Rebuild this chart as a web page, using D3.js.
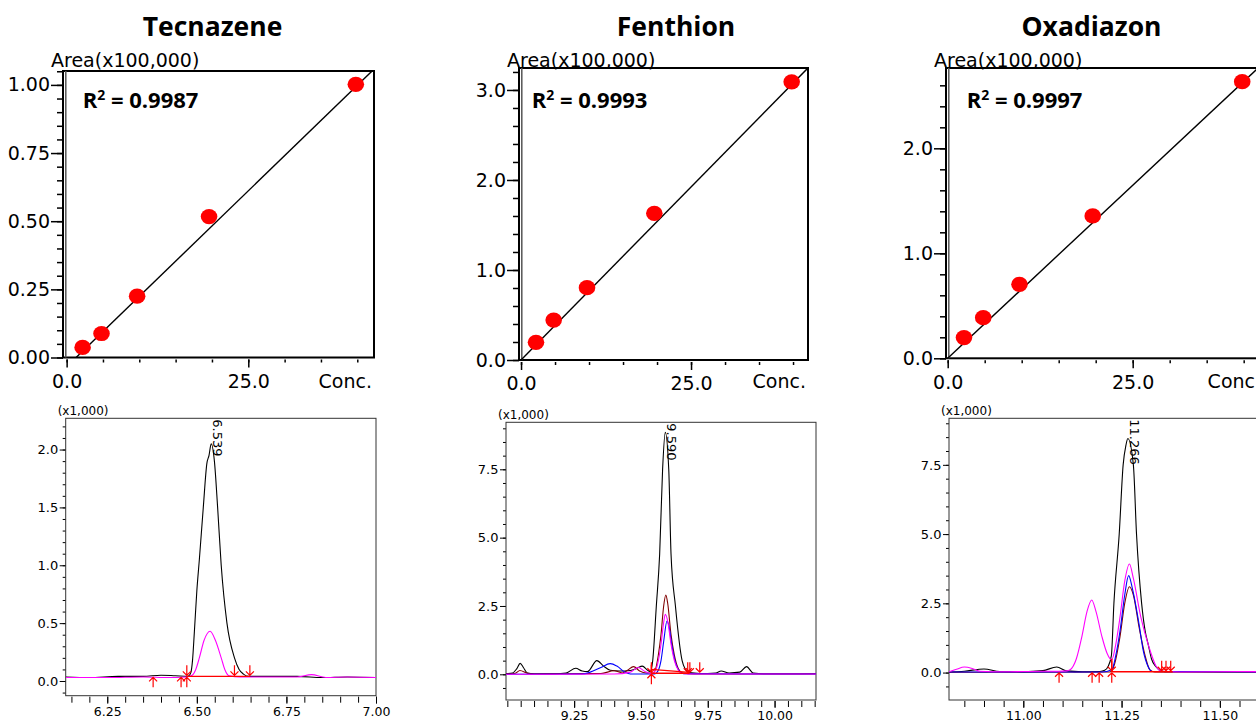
<!DOCTYPE html>
<html>
<head>
<meta charset="utf-8">
<script src="https://cdn.jsdelivr.net/npm/d3@7"></script>
<style>
body { margin: 0; background: #fff; }
svg text { font-family: "DejaVu Sans", sans-serif; }
</style>
</head>
<body>
<svg width="1256" height="722"></svg>
<script>
var svg = d3.select("svg");

var compounds = ["Tecnazene", "Fenthion", "Oxadiazon"];
var r2Values = ["0.9987", "0.9993", "0.9997"];
var peakTimes = [6.539, 9.590, 11.266];

// calibration levels and areas (x100,000)
var conc = [2.2, 4.8, 9.7, 19.6, 39.8];
var tecArea = [0.037, 0.088, 0.225, 0.517, 1.002];
var fenArea = [0.196, 0.444, 0.804, 1.63, 3.09];
var oxaArea = [0.197, 0.387, 0.705, 1.356, 2.635];
var fitSlope = [0.0258, 0.0769, 0.0659];
var fitIntercept = [-0.0336, 0, 0];

// calibration ticks
var calMajorY = [[0, 0.25, 0.5, 0.75, 1.0], [0, 1, 2, 3], [0, 1, 2]];
var calMinorStep = [0.05, 0.2, 0.2];
var calYFormat = [".2f", ".1f", ".1f"];
var calMajorX = [0, 25];
var calMinorX = [0, 5, 10, 15, 20, 25, 30, 35, 40];

// chromatograms, intensity (x1,000) against time
var tecBlack = [[6.134,0.035],[6.20,0.03],[6.28,0.04],[6.35,0.04],[6.40,0.05],[6.44,0.045],[6.475,0.04],[6.483,0.07],[6.488,0.18],[6.493,0.42],[6.50,0.78],[6.507,1.05],[6.518,1.5],[6.528,1.88],[6.534,1.95],[6.54,2.05],[6.549,1.9],[6.558,1.5],[6.568,1.0],[6.584,0.5],[6.605,0.2],[6.618,0.1],[6.63,0.06],[6.645,0.04],[6.70,0.04],[6.78,0.04],[6.85,0.03],[6.92,0.035],[7.0,0.03]];
var tecMagenta = [[6.134,0.03],[6.25,0.03],[6.35,0.035],[6.42,0.03],[6.47,0.035],[6.487,0.05],[6.497,0.1],[6.507,0.2],[6.52,0.35],[6.537,0.43],[6.552,0.35],[6.568,0.2],[6.578,0.1],[6.59,0.045],[6.62,0.035],[6.70,0.035],[6.78,0.035],[6.82,0.055],[6.86,0.03],[6.92,0.035],[7.0,0.03]];

var fenBlack = [[8.995,0.02],[9.02,0.05],[9.035,0.2],[9.048,0.4],[9.06,0.25],[9.075,0.05],[9.10,0.02],[9.18,0.02],[9.22,0.05],[9.256,0.22],[9.28,0.12],[9.30,0.1],[9.335,0.5],[9.36,0.3],[9.385,0.15],[9.42,0.12],[9.46,0.14],[9.485,0.22],[9.505,0.3],[9.525,0.15],[9.535,0.1],[9.544,0.5],[9.5575,2.5],[9.57,4.4],[9.581,7.5],[9.591,8.85],[9.604,7.5],[9.6125,4.4],[9.629,2.5],[9.654,0.5],[9.665,0.2],[9.68,0.06],[9.72,0.03],[9.78,0.05],[9.80,0.12],[9.83,0.05],[9.87,0.08],[9.895,0.28],[9.92,0.05],[9.96,0.02],[10.05,0.02],[10.155,0.03]];
var fenMaroon = [[8.995,0.01],[9.03,0.04],[9.047,0.14],[9.075,0.04],[9.10,0.01],[9.20,0.02],[9.35,0.03],[9.40,0.13],[9.43,0.05],[9.45,0.15],[9.472,0.28],[9.495,0.12],[9.52,0.05],[9.545,0.05],[9.555,0.2],[9.565,0.7],[9.575,1.45],[9.585,2.5],[9.593,2.9],[9.60,2.6],[9.6125,1.45],[9.625,0.7],[9.64,0.2],[9.655,0.05],[9.70,0.01],[10.155,0.01]];
var fenMagenta = [[8.995,0],[9.40,0.01],[9.46,0.08],[9.49,0.25],[9.515,0.1],[9.54,0.03],[9.555,0.15],[9.565,0.5],[9.575,1.1],[9.585,1.9],[9.591,2.2],[9.60,1.95],[9.6125,1.1],[9.625,0.5],[9.64,0.15],[9.655,0.03],[9.70,0.01],[10.155,0.01]];
var fenBlue = [[8.995,0],[9.28,0.01],[9.31,0.08],[9.35,0.25],[9.385,0.39],[9.41,0.3],[9.44,0.08],[9.46,0.01],[9.55,0.01],[9.565,0.15],[9.575,0.5],[9.585,1.2],[9.5975,1.95],[9.605,1.75],[9.615,1.1],[9.63,0.4],[9.645,0.1],[9.66,0.02],[10.155,0.01]];

var oxaBlack = [[10.811,0.02],[10.85,0.05],[10.90,0.13],[10.94,0.04],[11.00,0.03],[11.05,0.07],[11.085,0.2],[11.11,0.06],[11.15,0.03],[11.195,0.04],[11.207,0.08],[11.215,0.2],[11.224,0.6],[11.2305,2.5],[11.244,5.0],[11.254,7.5],[11.261,8.2],[11.266,8.45],[11.28,7.5],[11.288,5.0],[11.301,2.5],[11.31,1.5],[11.318,1.0],[11.326,0.5],[11.338,0.2],[11.35,0.06],[11.37,0.03],[11.45,0.03],[11.55,0.04],[11.653,0.03]];
var oxaMaroon = [[10.811,0.01],[11.22,0.02],[11.232,0.3],[11.246,1.3],[11.258,2.5],[11.27,3.1],[11.28,2.8],[11.295,1.6],[11.31,0.6],[11.322,0.1],[11.335,0.02],[11.653,0.01]];
var oxaBlue = [[10.811,0.02],[11.20,0.02],[11.225,0.1],[11.235,0.6],[11.246,1.5],[11.258,2.8],[11.268,3.5],[11.278,3.0],[11.295,1.7],[11.305,0.8],[11.318,0.2],[11.327,0.04],[11.653,0.02]];
var oxaMagenta = [[10.811,0.03],[10.83,0.12],[10.85,0.2],[10.87,0.15],[10.89,0.05],[10.95,0.03],[11.05,0.05],[11.09,0.05],[11.11,0.06],[11.119,0.1],[11.135,0.5],[11.149,1.3],[11.162,2.2],[11.174,2.62],[11.185,2.2],[11.2,1.3],[11.213,0.7],[11.225,0.46],[11.235,1.0],[11.246,2.0],[11.258,3.3],[11.27,3.92],[11.28,3.4],[11.299,2.0],[11.318,1.0],[11.339,0.2],[11.352,0.05],[11.40,0.02],[11.55,0.04],[11.653,0.02]];

// integration marks
var tecBase = [[[6.472,0.04],[6.648,0.04]]];
var tecUp = [6.378, 6.456, 6.472];
var tecDown = [6.472, 6.605, 6.648];
var fenBase = [[[9.539,0.04],[9.682,0.04]], [[9.539,0.18],[9.682,0.07]], [[9.539,0.04],[9.539,0.35]]];
var fenUp = [9.539];
var fenDown = [9.539, 9.675, 9.683, 9.72];
var oxaBase = [[[11.225,0.03],[11.38,0.03]], [[11.225,0.03],[11.225,0.5]]];
var oxaUp = [11.091, 11.175, 11.193, 11.225];
var oxaDown = [11.225, 11.352, 11.363, 11.375];
var markLevel = [0.04, 0.04, 0.03];

var chromMajorX = [[6.25, 6.5, 6.75, 7.0], [9.25, 9.5, 9.75, 10.0], [11.0, 11.25, 11.5]];
var chromMajorY = [[0, 0.5, 1.0, 1.5, 2.0], [0, 2.5, 5.0, 7.5], [0, 2.5, 5.0, 7.5]];
var chromMinorYStep = [0.1, 0.5, 0.5];

// layout
var calBoxes = [
	{left: 63, right: 374, top: 71, bottom: 357.5, xDom: [-0.5, 42.3], yDom: [0, 1.051], title: 212.5, r2x: 82.7},
	{left: 519, right: 808, top: 68, bottom: 360, xDom: [-0.3, 42.2], yDom: [0, 3.244], title: 676, r2x: 531.7},
	{left: 946, right: 1261, top: 68, bottom: 358.3, xDom: [-0.23, 42.34], yDom: [0, 2.765], title: 1091.5, r2x: 966.7}
];
var chromBoxes = [
	{left: 65.7, right: 376, top: 418.3, bottom: 695.7, xDom: [6.134, 7.0], yDom: [-0.127, 2.27]},
	{left: 506, right: 816, top: 422.3, bottom: 700, xDom: [8.995, 10.155], yDom: [-0.94, 9.22]},
	{left: 949, right: 1280, top: 418.3, bottom: 700, xDom: [10.811, 11.653], yDom: [-0.99, 9.18]}
];

var areas = [tecArea, fenArea, oxaArea];
var traces = [
	[[tecBlack, "#000"], [tecMagenta, "#ff00ff"]],
	[[fenBlack, "#000"], [fenMaroon, "#800000"], [fenBlue, "#0000ff"], [fenMagenta, "#ff00ff"]],
	[[oxaBlack, "#000"], [oxaMaroon, "#800000"], [oxaBlue, "#0000ff"], [oxaMagenta, "#ff00ff"]]
];
var bases = [tecBase, fenBase, oxaBase];
var ups = [tecUp, fenUp, oxaUp];
var downs = [tecDown, fenDown, oxaDown];

function stepTicks(dom, step) {
	var lo = Math.ceil(dom[0] / step - 1e-6), hi = Math.floor(dom[1] / step + 1e-6);
	return d3.range(lo, hi + 1).map(function(i) { return +(i * step).toFixed(4); });
}

function styleAxis(g, size, width) {
	g.attr("font-family", "DejaVu Sans").attr("font-size", size);
	g.select(".domain").remove();
	g.selectAll("line").attr("stroke", "#000").attr("stroke-width", width);
	g.selectAll("text").attr("fill", "#000");
}

var defs = svg.append("defs");

compounds.forEach(function(name, i) {
	var b = calBoxes[i];
	var x = d3.scaleLinear().domain(b.xDom).range([b.left, b.right]);
	var y = d3.scaleLinear().domain(b.yDom).range([b.bottom, b.top]);
	var g = svg.append("g");

	defs.append("clipPath").attr("id", "cal" + i).append("rect")
		.attr("x", b.left).attr("y", b.top).attr("width", b.right - b.left).attr("height", b.bottom - b.top);

	//title
	svg.append("text")
		.attr("x", b.title).attr("y", 35.7)
		.attr("text-anchor", "middle")
		.style("font-family", "'Open Sans'").style("font-weight", "bold").style("font-size", "26.5px")
		.text(name);

	//y axis, minor then major
	g.append("g").attr("transform", "translate(" + b.left + ",0)")
		.call(d3.axisLeft(y).tickValues(stepTicks(b.yDom, calMinorStep[i])).tickSize(6).tickFormat(""))
		.call(styleAxis, 19, 1.5);
	g.append("g").attr("transform", "translate(" + b.left + ",0)")
		.call(d3.axisLeft(y).tickValues(calMajorY[i]).tickSize(12).tickPadding(1).tickFormat(d3.format(calYFormat[i])))
		.call(styleAxis, 19, 1.5);

	//x axis
	g.append("g").attr("transform", "translate(0," + (b.bottom + 2) + ")")
		.call(d3.axisBottom(x).tickValues(calMinorX).tickSize(3).tickFormat(""))
		.call(styleAxis, 19, 1.5);
	g.append("g").attr("transform", "translate(0," + (b.bottom + 2) + ")")
		.call(d3.axisBottom(x).tickValues(calMajorX).tickSize(8).tickPadding(7).tickFormat(d3.format(".1f")))
		.call(styleAxis, 19, 1.5);

	g.append("text").attr("x", Math.min(b.right - 2, 1255)).attr("y", 388)
		.attr("text-anchor", "end").attr("font-size", 19).text(b.right > 1256 ? "Conc" : "Conc.");
	g.append("text").attr("x", b.left - 12).attr("y", 66.7)
		.attr("font-size", 19).text("Area(x100,000)");

	//frame
	g.append("rect")
		.attr("x", b.left).attr("y", b.top).attr("width", b.right - b.left).attr("height", b.bottom - b.top)
		.attr("fill", "none").attr("stroke", "#000").attr("stroke-width", 2);
	g.append("line")
		.attr("x1", b.left + 2.8).attr("x2", b.left + 2.8).attr("y1", b.top).attr("y2", b.bottom)
		.attr("stroke", "#555").attr("stroke-width", 1.5);

	//fit line
	var x0 = Math.max(0, -fitIntercept[i] / fitSlope[i]);
	var fit = [x0, b.xDom[1]];
	g.append("path")
		.datum(fit)
		.attr("clip-path", "url(#cal" + i + ")")
		.attr("fill", "none").attr("stroke", "#000").attr("stroke-width", 1.4)
		.attr("d", d3.line()
			.x(function(d) { return x(d); })
			.y(function(d) { return y(fitSlope[i] * d + fitIntercept[i]); }));

	//calibration points
	g.selectAll(".pt")
		.data(conc)
		.enter().append("ellipse")
			.attr("cx", function(d) { return x(d); })
			.attr("cy", function(d, j) { return y(areas[i][j]); })
			.attr("rx", 8.3).attr("ry", 7.6)
			.attr("fill", "#ff0000");

	//r squared
	var t = g.append("text").attr("x", b.r2x).attr("y", 108)
		.style("font-family", "'Open Sans'").style("font-weight", "bold").style("font-size", "22px");
	t.append("tspan").text("R");
	t.append("tspan").attr("dy", -8).style("font-size", "14px").text("2");
	t.append("tspan").attr("dy", 8).text(" = " + r2Values[i]);
});

compounds.forEach(function(name, i) {
	var b = chromBoxes[i];
	var x = d3.scaleLinear().domain(b.xDom).range([b.left, b.right]);
	var y = d3.scaleLinear().domain(b.yDom).range([b.bottom, b.top]);
	var g = svg.append("g");

	defs.append("clipPath").attr("id", "chr" + i).append("rect")
		.attr("x", b.left).attr("y", b.top).attr("width", b.right - b.left).attr("height", b.bottom - b.top);

	//y axis
	g.append("g").attr("transform", "translate(" + b.left + ",0)")
		.call(d3.axisLeft(y).tickValues(stepTicks(b.yDom, chromMinorYStep[i])).tickSize(3).tickFormat(""))
		.call(styleAxis, 13, 1);
	g.append("g").attr("transform", "translate(" + b.left + ",0)")
		.call(d3.axisLeft(y).tickValues(chromMajorY[i]).tickSize(6).tickPadding(1.5).tickFormat(d3.format(".1f")))
		.call(styleAxis, 13, 1);

	//x axis
	g.append("g").attr("transform", "translate(0," + (b.bottom + 1) + ")")
		.call(d3.axisBottom(x).tickValues(stepTicks(b.xDom, 0.05)).tickSize(6).tickFormat(""))
		.call(styleAxis, 12.5, 1);
	g.append("g").attr("transform", "translate(0," + (b.bottom + 1) + ")")
		.call(d3.axisBottom(x).tickValues(chromMajorX[i]).tickSize(7).tickPadding(3.5).tickFormat(d3.format(".2f")))
		.call(styleAxis, 12.5, 1);

	g.append("text").attr("x", b.left - 8).attr("y", b.top - 3)
		.attr("font-size", 12).text("(x1,000)");

	g.append("rect")
		.attr("x", b.left).attr("y", b.top).attr("width", b.right - b.left).attr("height", b.bottom - b.top)
		.attr("fill", "none").attr("stroke", "#333").attr("stroke-width", 1);

	var plot = g.append("g").attr("clip-path", "url(#chr" + i + ")");
	var line = d3.line()
		.x(function(d) { return x(d[0]); })
		.y(function(d) { return y(d[1]); })
		.curve(d3.curveMonotoneX);

	traces[i].forEach(function(tr) {
		plot.append("path").datum(tr[0])
			.attr("fill", "none").attr("stroke", tr[1]).attr("stroke-width", 1.1)
			.attr("d", line);
	});

	//baselines and peak start/end arrows
	bases[i].forEach(function(seg) {
		plot.append("path").datum(seg)
			.attr("fill", "none").attr("stroke", "#ff0000").attr("stroke-width", 1.4)
			.attr("d", d3.line().x(function(d) { return x(d[0]); }).y(function(d) { return y(d[1]); }));
	});
	var yb = y(markLevel[i]);
	plot.selectAll(".up").data(ups[i]).enter().append("path")
		.attr("fill", "none").attr("stroke", "#ff0000").attr("stroke-width", 1.2)
		.attr("d", function(d) {
			var px = x(d);
			return "M" + px + "," + (yb + 11) + "V" + (yb + 1) + "M" + (px - 4) + "," + (yb + 5) + "L" + px + "," + (yb + 1) + "L" + (px + 4) + "," + (yb + 5);
		});
	plot.selectAll(".down").data(downs[i]).enter().append("path")
		.attr("fill", "none").attr("stroke", "#ff0000").attr("stroke-width", 1.2)
		.attr("d", function(d) {
			var px = x(d);
			return "M" + px + "," + (yb - 11) + "V" + (yb - 1) + "M" + (px - 4) + "," + (yb - 5) + "L" + px + "," + (yb - 1) + "L" + (px + 4) + "," + (yb - 5);
		});

	//retention time label
	var px = x(peakTimes[i]);
	g.append("text")
		.attr("transform", "translate(" + (px + 2) + "," + (b.top + 1) + ") rotate(90)")
		.attr("font-size", 13)
		.text(d3.format(".3f")(peakTimes[i]));
});
</script>
</body>
</html>
